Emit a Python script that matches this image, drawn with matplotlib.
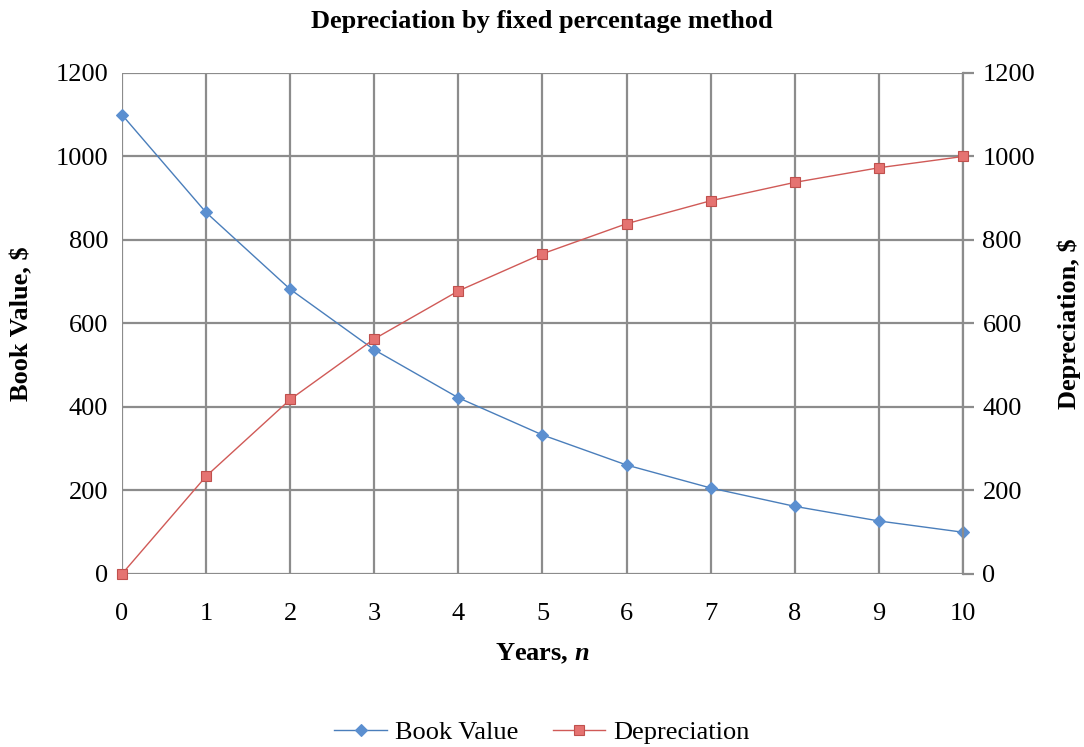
import matplotlib.pyplot as plt

plt.rcParams['font.family'] = ['Liberation Serif', 'DejaVu Serif']
plt.rcParams['mathtext.fontset'] = 'custom'
plt.rcParams['mathtext.it'] = 'Liberation Serif:italic:bold'

# Data
years = [0, 1, 2, 3, 4, 5, 6, 7, 8, 9, 10]
book_value = [1100, 866, 682, 537, 422, 333, 261, 206, 162, 127, 100]
depreciation = [0, 234, 418, 563, 678, 767, 839, 894, 938, 973, 1000]
y_ticks = [0, 200, 400, 600, 800, 1000, 1200]

grid_col = '#8c8c8c'

fig = plt.figure(figsize=(10.84, 7.47), dpi=100)
ax = fig.add_axes([0.1125, 0.2316, 0.7759, 0.6707])
ax2 = ax.twinx()

ax.plot(years, book_value, color='#4a7ebb', lw=1.0, marker='D', ms=6,
        mfc='#5b8fd0', mec='#5b8fd0', mew=0.8, label='Book Value',
        zorder=3, clip_on=False)
ax2.plot(years, depreciation, color='#d05a57', lw=1.0, marker='s', ms=7,
         mfc='#e57371', mec='#c0504d', mew=0.8, label='Depreciation',
         zorder=3, clip_on=False)

for a in (ax, ax2):
    a.set_xlim(0, 10)
    a.set_ylim(0, 1200)
    a.set_yticks(y_ticks)
    for s in a.spines.values():
        s.set_visible(False)

ax.set_xticks(years)
ax.grid(True, color=grid_col, lw=1.6)
ax.set_axisbelow(True)
ax.tick_params(axis='x', length=0, labelsize=19, pad=21)
ax.tick_params(axis='y', length=0, labelsize=19, pad=10)
ax2.spines['right'].set_visible(True)
ax2.spines['right'].set_color(grid_col)
ax2.spines['right'].set_linewidth(1.6)
ax2.tick_params(axis='y', length=8, width=1.6, color=grid_col, labelsize=19, pad=6)

ax.set_xlabel('Years, $n$', fontsize=19, fontweight='bold', labelpad=12)
ax.set_ylabel('Book Value, $', fontsize=19, fontweight='bold', labelpad=16)
ax2.set_ylabel('Depreciation, $', fontsize=19, fontweight='bold', labelpad=16)
fig.suptitle('Depreciation by fixed percentage method', fontsize=19,
             fontweight='bold', y=0.987)

h1, l1 = ax.get_legend_handles_labels()
h2, l2 = ax2.get_legend_handles_labels()
fig.legend(h1 + h2, l1 + l2, loc='lower center', bbox_to_anchor=(0.5, -0.028),
           ncol=2, frameon=False, fontsize=19, handlelength=2.0,
           handletextpad=0.3, columnspacing=1.3)

fig.savefig('out.png', dpi=100)
